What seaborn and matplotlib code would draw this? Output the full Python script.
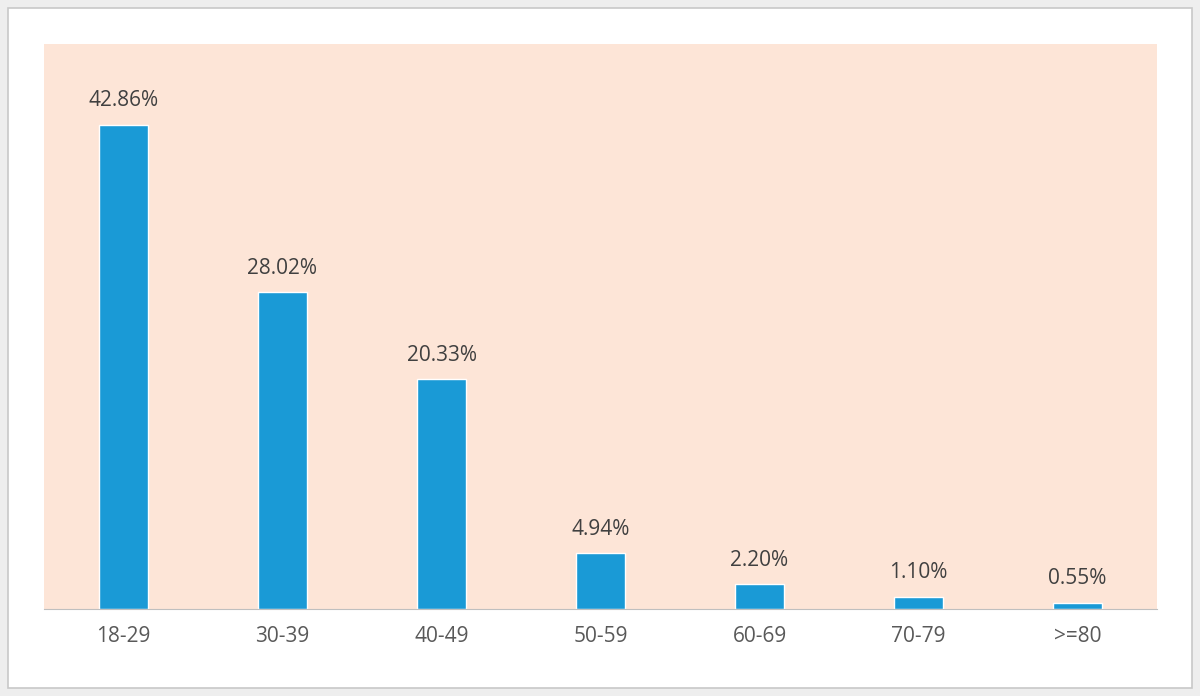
import matplotlib
matplotlib.use("Agg")
import matplotlib.pyplot as plt
import seaborn as sns
from matplotlib.patches import Rectangle

categories = ["18-29", "30-39", "40-49", "50-59", "60-69", "70-79", ">=80"]
values = [42.86, 28.02, 20.33, 4.94, 2.20, 1.10, 0.55]
labels = ["42.86%", "28.02%", "20.33%", "4.94%", "2.20%", "1.10%", "0.55%"]

sns.set_style("white")
plt.rcParams['font.family'] = ['Open Sans', 'DejaVu Sans']

fig = plt.figure(figsize=(12, 6.96), dpi=100)
fig.patch.set_facecolor("#eeeeee")
fig.patches.append(Rectangle((8/1200, 8/696), 1184/1200, 680/696, transform=fig.transFigure,
                             facecolor="white", edgecolor="#c8c8c8", linewidth=1.2, zorder=-10))
ax = fig.add_axes([44/1200, (696-609)/696, 1113/1200, 565/696])
ax.set_zorder(5)
ax.set_facecolor("#fde5d7")
sns.barplot(x=categories, y=values, color="#1a9ad6", width=0.31, saturation=1, ax=ax)
ax.set_xlim(-0.5, 6.5)
ax.set_ylim(0, 50)
ax.set_yticks([])
for s in ["top", "left", "right"]:
    ax.spines[s].set_visible(False)
ax.spines["bottom"].set_color("#bfbfbf")
ax.tick_params(axis="x", length=0, labelsize=15, colors="#595959", pad=12)
for i, (v, l) in enumerate(zip(values, labels)):
    ax.text(i, v + 1.2, l, ha="center", va="bottom", fontsize=15, color="#404040")
ax.set_xlabel("")
ax.set_ylabel("")
fig.savefig("out.png", dpi=100, facecolor=fig.get_facecolor())
